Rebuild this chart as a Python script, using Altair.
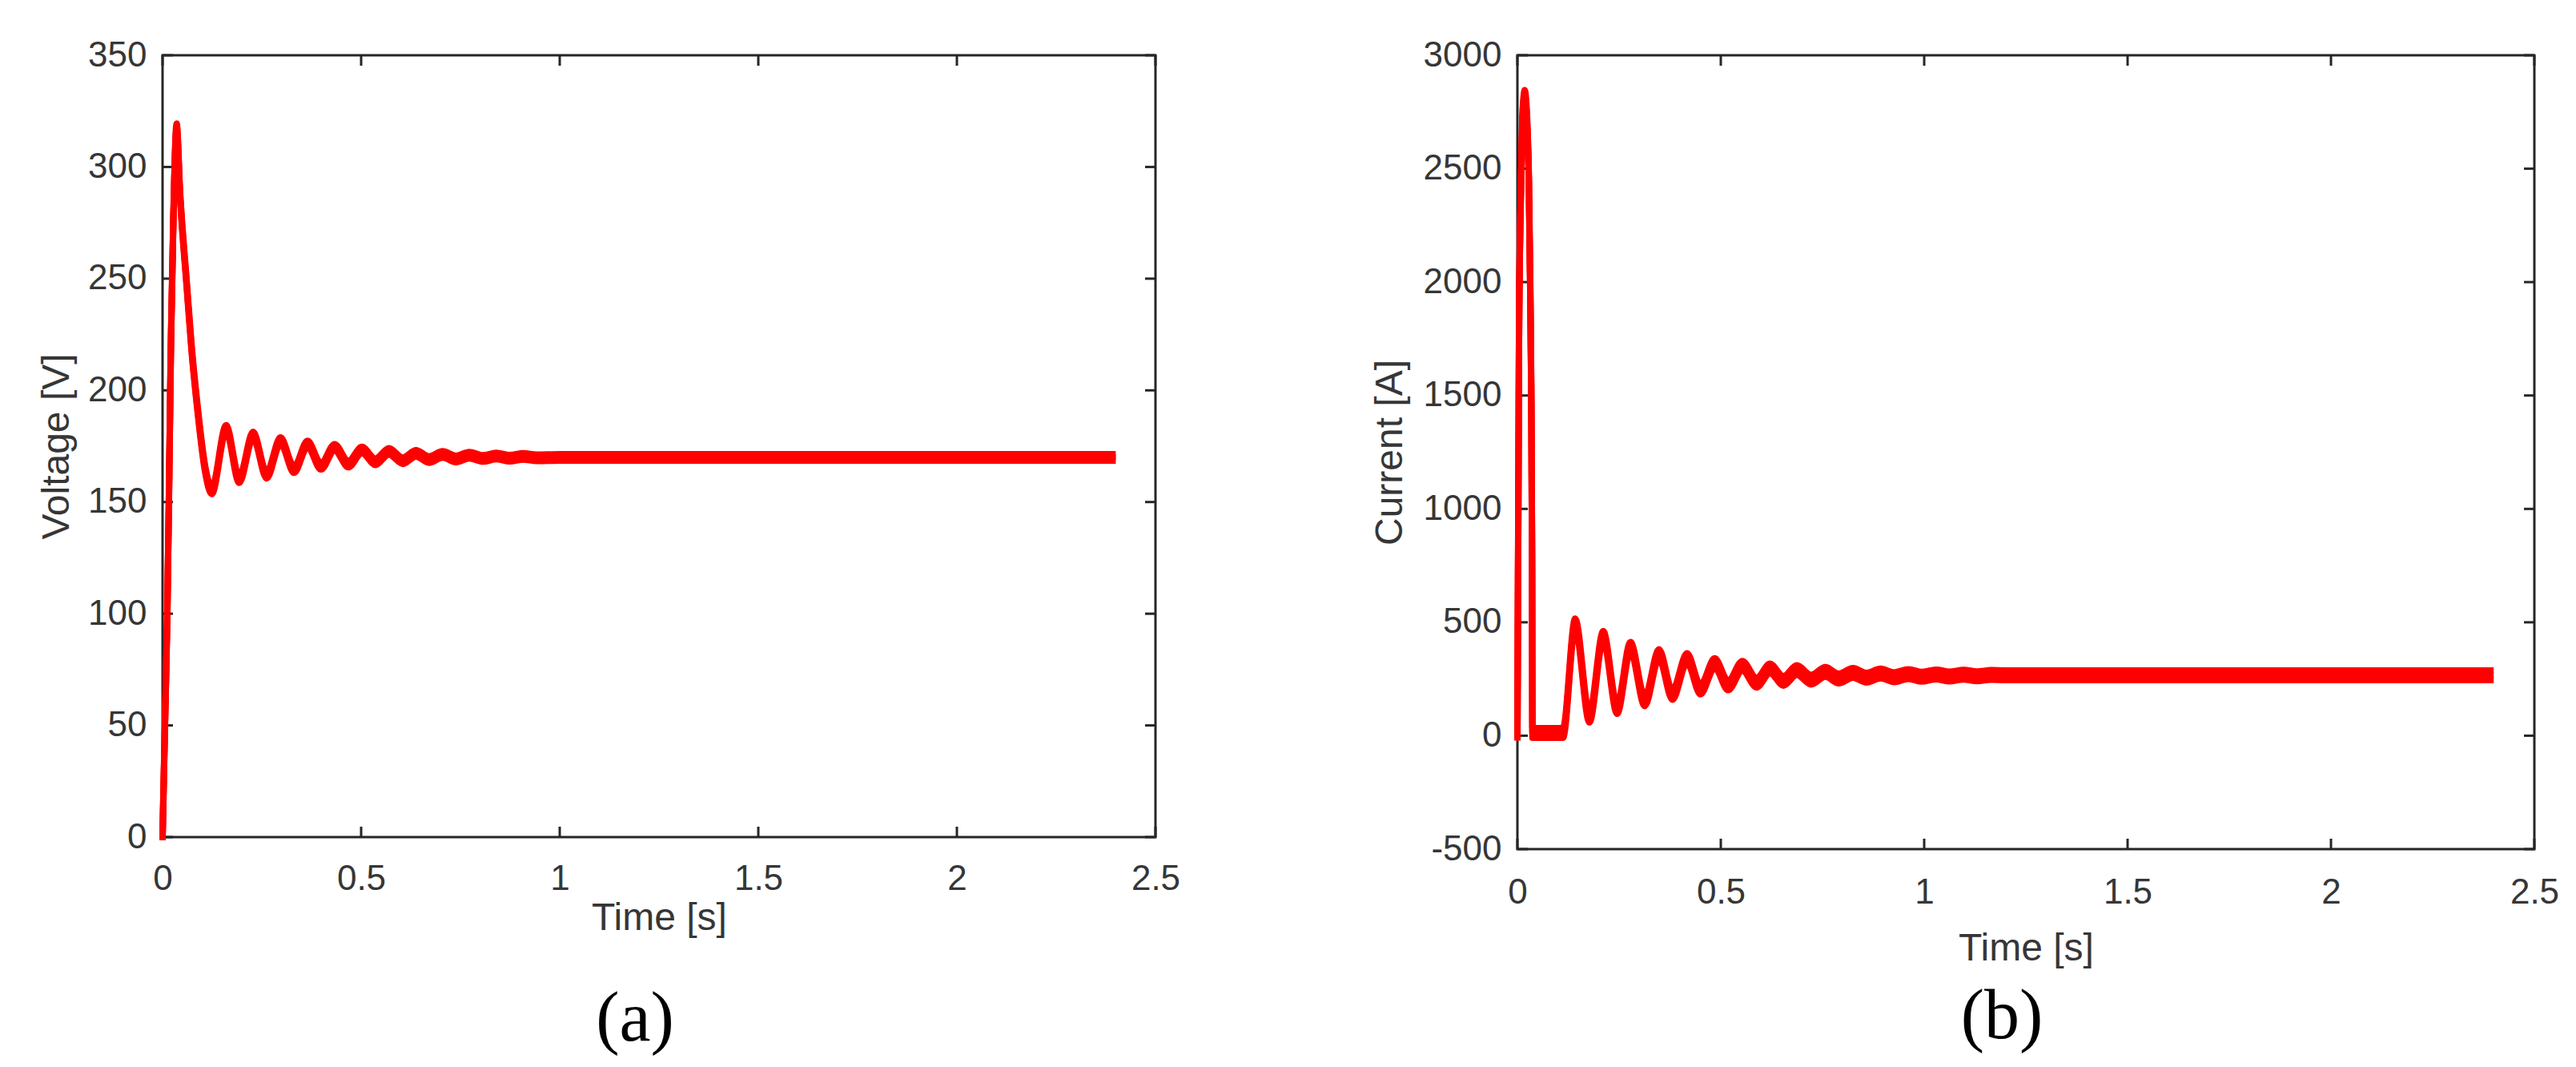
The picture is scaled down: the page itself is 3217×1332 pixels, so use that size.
import altair as alt
import pandas as pd

# ---------------- data ----------------
volt_t = [0, 0.006, 0.012, 0.017, 0.021, 0.027, 0.0355, 0.044, 0.061, 0.073, 0.088, 0.107, 0.124,
          0.160, 0.193, 0.228, 0.262, 0.297, 0.331, 0.365, 0.399, 0.433, 0.468, 0.502, 0.536,
          0.570, 0.605, 0.638, 0.671, 0.705, 0.739, 0.772, 0.807, 0.840, 0.874, 0.908, 0.942,
          1.0, 2.4]
volt_v = [0, 50, 100, 165, 220, 275, 318, 288, 247, 219, 192, 165, 155,
          183, 160, 180, 162, 177.5, 164.5, 176, 166, 174.5, 167, 173.3, 168,
          172.7, 168.5, 171.8, 169, 171.3, 169.3, 171, 169.5, 170.6, 169.6, 170.4, 169.8,
          170, 170]

curr_t = [0, 0.004, 0.008, 0.012, 0.016, 0.018, 0.021, 0.025, 0.028, 0.031, 0.034, 0.036, 0.037,
          0.112, 0.142, 0.177, 0.211, 0.245, 0.278, 0.313, 0.348, 0.381, 0.417, 0.450, 0.485,
          0.518, 0.553, 0.588, 0.621, 0.654, 0.687, 0.722, 0.757, 0.790, 0.825, 0.858, 0.893,
          0.926, 0.961, 0.994, 1.029, 1.062, 1.097, 1.13, 1.165, 1.2, 2.4]
curr_i = [0, 1770, 2350, 2700, 2810, 2825, 2790, 2650, 2460, 2050, 1530, 780, 12,
          12, 495, 80, 440, 118, 392, 152, 360, 180, 342, 204, 320,
          222, 308, 234, 296, 242, 289, 247, 281, 252, 277, 256, 274,
          258, 272, 260, 270, 261, 269, 262, 268, 266, 266]

x_ticks = [0, 0.5, 1, 1.5, 2, 2.5]
volt_ticks = [0, 50, 100, 150, 200, 250, 300, 350]
curr_ticks = [-500, 0, 500, 1000, 1500, 2000, 2500, 3000]

AXIS_COLOR = "#262626"
TEXT_COLOR = "#363636"
RED = "#ff0000"
SANS = "Liberation Sans"


def panel(t, y, yticks, ydomain, ytitle, W, H, label, xtitle_y, ytitle_x,
          xlabel_pad, title_offset, off):
    df = pd.DataFrame({"t": t, "y": y})
    xscale = alt.Scale(domain=[0, 2.5], nice=False, zero=False)
    yscale = alt.Scale(domain=ydomain, nice=False, zero=False)
    xaxis = alt.Axis(values=x_ticks, title="Time [s]", labelExpr="'' + datum.value",
                     grid=False, domain=False, ticks=False, tickSize=0,
                     labelPadding=xlabel_pad, labelFlush=False, labelOverlap=False,
                     labelFont=SANS, labelFontSize=44, labelColor=TEXT_COLOR,
                     titleFont=SANS, titleFontSize=48, titleFontWeight="normal",
                     titleColor=TEXT_COLOR, titleY=xtitle_y, titleBaseline="alphabetic")
    yaxis = alt.Axis(values=yticks, title=ytitle, labelExpr="'' + datum.value",
                     grid=False, domain=False, ticks=False, tickSize=0,
                     labelPadding=20, labelFlush=False, labelOverlap=False,
                     labelFont=SANS, labelFontSize=44, labelColor=TEXT_COLOR,
                     titleFont=SANS, titleFontSize=48, titleFontWeight="normal",
                     titleColor=TEXT_COLOR, titleX=ytitle_x, titleY=H / 2,
                     titleAngle=270, titleAlign="center", titleBaseline="alphabetic")

    ydf = pd.DataFrame({"y": yticks})
    xdf = pd.DataFrame({"t": x_ticks})
    Y = alt.Y("y:Q", scale=yscale, axis=yaxis)
    X = alt.X("t:Q", scale=xscale, axis=xaxis)
    rule = dict(color=AXIS_COLOR, strokeWidth=3)
    tick_left = alt.Chart(ydf).mark_rule(**rule).encode(y=Y, x=alt.value(0), x2=alt.value(13))
    tick_right = alt.Chart(ydf).mark_rule(**rule).encode(y=Y, x=alt.value(W - 13), x2=alt.value(W))
    tick_bottom = alt.Chart(xdf).mark_rule(**rule).encode(x=X, y=alt.value(H - 13), y2=alt.value(H))
    tick_top = alt.Chart(xdf).mark_rule(**rule).encode(x=X, y=alt.value(0), y2=alt.value(13))

    lines = [
        alt.Chart(df).mark_line(color=RED, strokeWidth=8, interpolate="monotone",
                                yOffset=o, strokeJoin="round", strokeCap="butt")
        .encode(x=X, y=Y)
        for o in (-off, 0, off)
    ]
    return alt.layer(tick_left, tick_right, tick_bottom, tick_top, *lines).properties(
        width=W, height=H,
        view=alt.ViewBackground(stroke=AXIS_COLOR, strokeWidth=3, fill="white"),
        title=alt.TitleParams(label, orient="bottom", anchor="middle",
                              font="Liberation Serif", fontSize=88, fontWeight="normal",
                              color="black", offset=title_offset, dx=-30),
    )


pa = panel(volt_t, volt_v, volt_ticks, [0, 350], "Voltage [V]", 1240, 976, "(a)",
           xtitle_y=115, ytitle_x=-118, xlabel_pad=30, title_offset=59, off=4)
pb = panel(curr_t, curr_i, curr_ticks, [-500, 3000], "Current [A]", 1270, 991, "(b)",
           xtitle_y=138, ytitle_x=-145, xlabel_pad=32, title_offset=18, off=6)

chart = (
    alt.hconcat(pa, pb, spacing=452, bounds="flush")
    .properties(
        autosize=alt.AutoSizeParams(type="none"),
        padding={"left": 195, "top": 61, "right": 3000, "bottom": 1250},
        background="white",
    )
    .configure_view(stroke=AXIS_COLOR, strokeWidth=3)
)

chart.save("out.html", embed_options={"renderer": "svg", "actions": False})
